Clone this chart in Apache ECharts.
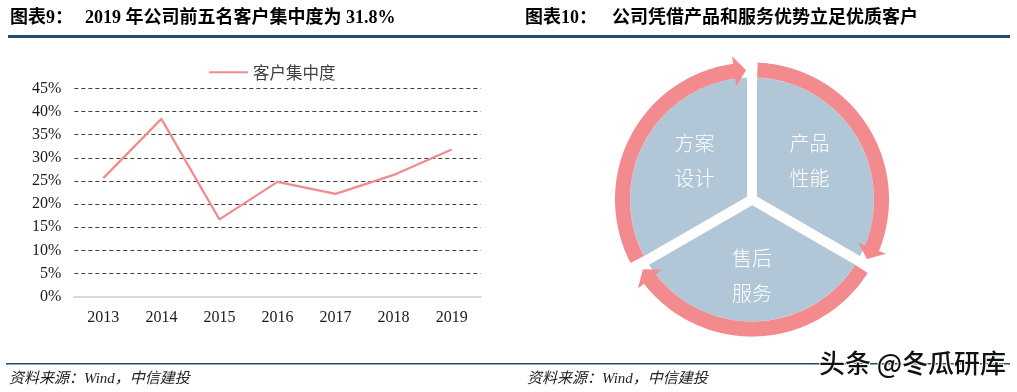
<!DOCTYPE html>
<html>
<head>
<meta charset="utf-8">
<script src="https://cdn.jsdelivr.net/npm/echarts@6/dist/echarts.min.js"></script>
<style>
html,body{margin:0;padding:0;background:#fff;}
#c{width:1017px;height:392px;}
</style>
</head>
<body>
<div id="c"></div>
<script>
// ---- data ----
var years = ['2013', '2014', '2015', '2016', '2017', '2018', '2019'];
var concentration = [25.6, 38.4, 16.7, 24.8, 22.2, 26.3, 31.8];
var seriesName = '客户集中度';
var yTicks = [0, 5, 10, 15, 20, 25, 30, 35, 40, 45];
var pieNames = ['产品\n性能', '售后\n服务', '方案\n设计'];
var pieValues = [1, 1, 1];
// ring arrows: start angle and tip angle (degrees, counter-clockwise from east), drawn clockwise
var arrowStart = [207.6, 87.6, 327.6];
var arrowTip = [92.6, 332.6, 212.6];
var title1a = '图表9：', title1b = '2019 年公司前五名客户集中度为 31.8%';
var title2a = '图表10：', title2b = '公司凭借产品和服务优势立足优质客户';
var sourceText = '资料来源：Wind，中信建投';
var watermark = '头条 @冬瓜研库';

var chart = echarts.init(document.getElementById('c'), null, {renderer: 'canvas'});
var serif = '"Liberation Serif", "Times New Roman", "Noto Sans CJK SC", serif';
var PINK = '#f38a8d', BLUE = '#b1c7d7', NAVY = '#1d4e6e';

function ringRender(params, api) {
  var s = api.value(0), t = api.value(1);
  var rOut = 137, rIn = 122, rMid = 129.5, headHalf = 15, headLen = 12;
  var sweep = s - t; if (sweep < 0) sweep += 360;
  var baseSweep = sweep - headLen / rMid * 180 / Math.PI;
  function P(r, a) { a = ((a % 360) + 360) % 360; return api.coord([r, a]); }
  var pts = [], i, n = Math.ceil(baseSweep);
  for (i = 0; i <= n; i++) pts.push(P(rOut, s - baseSweep * i / n));
  var b = s - baseSweep;
  pts.push(P(rMid + headHalf, b));
  pts.push(P(rMid, t));
  pts.push(P(rMid - headHalf, b));
  for (i = n; i >= 0; i--) pts.push(P(rIn, s - baseSweep * i / n));
  return {type: 'polygon', shape: {points: pts}, style: {fill: PINK}, z2: 5};
}

var option = {
  animation: false,
  backgroundColor: '#fff',
  legend: {
    data: [{name: seriesName, icon: 'rect'}],
    left: 204, top: 59,
    itemWidth: 39, itemHeight: 2, itemGap: 10,
    textStyle: {fontFamily: '"Noto Sans CJK SC", sans-serif', fontSize: 16.5, color: '#404040'}
  },
  grid: {left: 74.3, right: 536.3, top: 88.3, bottom: 95.3, containLabel: false},
  xAxis: {
    type: 'category', data: years, boundaryGap: true,
    axisLine: {lineStyle: {color: '#d9d9d9', width: 2}},
    axisTick: {show: false},
    axisLabel: {fontFamily: serif, fontSize: 16, color: '#1a1a1a', margin: 13}
  },
  yAxis: {
    type: 'value', min: yTicks[0], max: yTicks[yTicks.length - 1], interval: yTicks[1] - yTicks[0],
    axisLine: {show: false}, axisTick: {show: false},
    axisLabel: {formatter: '{value}%', fontFamily: serif, fontSize: 16, color: '#1a1a1a', margin: 13},
    splitLine: {lineStyle: {color: '#404040', type: [4, 3], width: 1}}
  },
  polar: {center: [752, 199.5], radius: 137},
  radiusAxis: {min: 0, max: 137, show: false},
  angleAxis: {type: 'value', min: 0, max: 360, startAngle: 0, clockwise: false, show: false},
  series: [
    {
      name: seriesName, type: 'line', data: concentration, symbol: 'none',
      lineStyle: {color: PINK, width: 2.2}, itemStyle: {color: PINK}
    },
    {
      type: 'pie', center: [752, 199.5], radius: 127, startAngle: 90, clockwise: true,
      silent: true, z: 1,
      itemStyle: {color: BLUE, borderColor: '#fff', borderWidth: 10},
      label: {position: 'inside', color: '#fff', fontSize: 20, lineHeight: 35,
              fontFamily: '"Noto Sans CJK SC", sans-serif', fontWeight: 300},
      labelLine: {show: false},
      labelLayout: function (p) {
        return p.dataIndex === 1 ? {dy: 10} : {dy: -5};
      },
      data: pieNames.map(function (n, i) { return {name: n, value: pieValues[i]}; })
    },
    {
      type: 'custom', coordinateSystem: 'polar', silent: true, z: 3,
      data: arrowStart.map(function (s, i) { return [s, arrowTip[i]]; }),
      renderItem: ringRender
    }
  ],
  graphic: [
    {type: 'text', left: 10, top: 9, style: {text: title1a, font: 'bold 18px ' + serif, fill: '#000'}},
    {type: 'text', left: 85, top: 9, style: {text: title1b, font: 'bold 18px ' + serif, fill: '#000'}},
    {type: 'text', left: 525, top: 9, style: {text: title2a, font: 'bold 18px ' + serif, fill: '#000'}},
    {type: 'text', left: 612, top: 9, style: {text: title2b, font: 'bold 18px ' + serif, fill: '#000'}},
    {type: 'rect', shape: {x: 8, y: 35, width: 1002, height: 3}, style: {fill: NAVY}},
    {type: 'rect', shape: {x: 6, y: 363, width: 1004, height: 1.6}, style: {fill: NAVY}},
    {type: 'text', left: 9, top: 372, style: {text: sourceText, font: 'italic 15px ' + serif, fill: '#222'}},
    {type: 'text', left: 527, top: 372, style: {text: sourceText, font: 'italic 15px ' + serif, fill: '#222'}},
    {type: 'text', left: 818, top: 349, z: 100, style: {text: watermark, font: '500 26px "Noto Sans CJK SC", sans-serif', fill: '#111', stroke: '#fff', lineWidth: 2}}
  ]
};
chart.setOption(option);
</script>
</body>
</html>
